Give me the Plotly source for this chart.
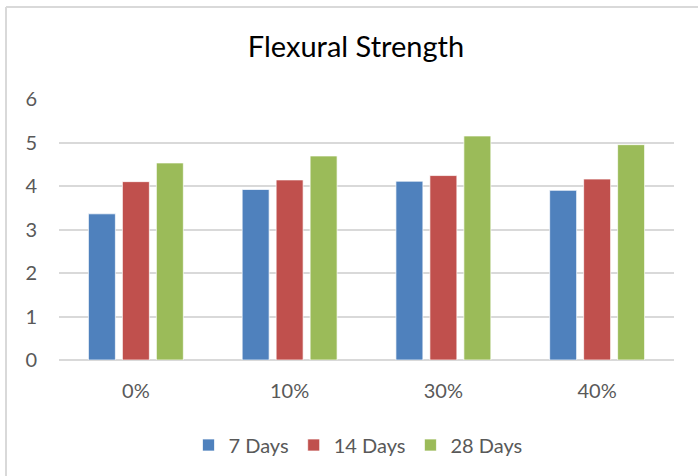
import plotly.graph_objects as go

# Flexural strength by replacement level and curing age
categories = ["0%", "10%", "30%", "40%"]
days_7 = [3.36, 3.92, 4.11, 3.90]
days_14 = [4.10, 4.14, 4.24, 4.16]
days_28 = [4.53, 4.69, 5.15, 4.95]
y_ticks = [0, 1, 2, 3, 4, 5, 6]

FONT = "Lato"
TEXT = "#595959"
GRID = "#d9d9d9"

fig = go.Figure()
for name, vals, color in [
    ("7 Days", days_7, "#4F81BD"),
    ("14 Days", days_14, "#C0504D"),
    ("28 Days", days_28, "#9BBB59"),
]:
    fig.add_trace(go.Bar(
        x=categories, y=vals, name=name,
        marker=dict(color=color, line=dict(color="rgba(255,255,255,0.7)", width=1)),
    ))

W, H = 698, 476
L, R, T, B = 59, 24, 99, 116
pw, ph = W - L - R, H - T - B

def px_x(p):
    return (p - L) / pw

def px_y(p):
    return (H - B - p) / ph

fig.update_layout(
    width=W, height=H,
    margin=dict(l=L, r=R, t=T, b=B),
    paper_bgcolor="white", plot_bgcolor="white",
    barmode="group", bargap=0.337, bargroupgap=0.206,
    font=dict(family=FONT, color=TEXT),
    title=dict(
        text="Flexural Strength",
        font=dict(family=FONT, size=29, color="#000000"),
        x=px_x(356), xref="paper", xanchor="center",
        y=1 - 47 / H, yref="container", yanchor="middle",
    ),
    xaxis=dict(
        showgrid=False, showline=False, ticks="",
        tickfont=dict(family=FONT, size=20, color=TEXT),
        ticklabelstandoff=17,
    ),
    yaxis=dict(
        range=[0, 6], tickvals=y_ticks,
        showgrid=True, gridcolor=GRID, gridwidth=1.5,
        zeroline=True, zerolinecolor=GRID, zerolinewidth=1.5,
        showline=False, ticks="",
        tickfont=dict(family=FONT, size=20, color=TEXT),
        ticklabelstandoff=21,
    ),
    legend=dict(
        orientation="h", x=px_x(358), xanchor="center",
        y=px_y(445), yanchor="middle",
        font=dict(family=FONT, size=20, color=TEXT),
        itemwidth=30, bgcolor="rgba(0,0,0,0)",
    ),
    showlegend=True,
    shapes=[
        # chart frame edges
        dict(type="line", xref="paper", yref="paper",
             x0=px_x(6), x1=px_x(6), y0=px_y(H + 5), y1=px_y(7),
             line=dict(color=GRID, width=2)),
        dict(type="line", xref="paper", yref="paper",
             x0=px_x(6), x1=px_x(W + 5), y0=px_y(7), y1=px_y(7),
             line=dict(color=GRID, width=2)),
    ],
)

fig.write_html("out.html")
